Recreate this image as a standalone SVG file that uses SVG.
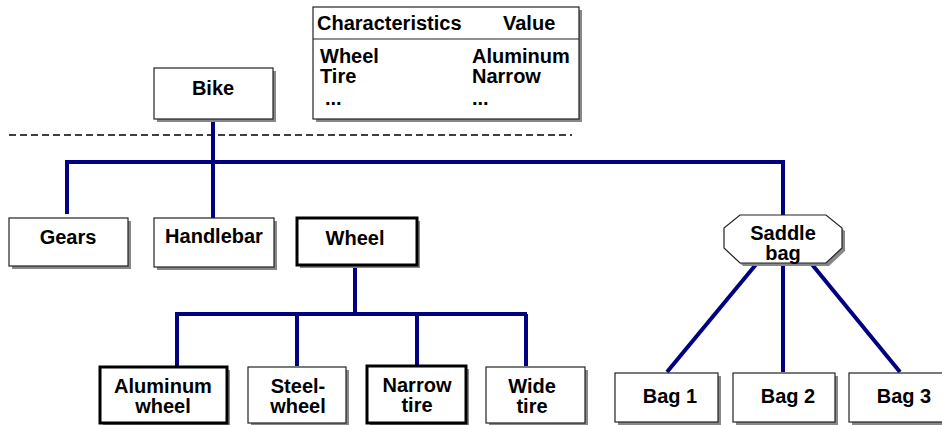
<svg xmlns="http://www.w3.org/2000/svg" width="942" height="425" viewBox="0 0 942 425">
<style>
.box{fill:#fff;stroke:#222;stroke-width:1.2}
.thick{fill:#fff;stroke:#000;stroke-width:3}
.sh{fill:#888}
.t{font-family:"Liberation Sans",Arial,sans-serif;font-weight:bold;font-size:20px;fill:#000}
.c{text-anchor:middle}
.ln{fill:none;stroke:#000080;stroke-width:4}
</style>
<rect width="942" height="425" fill="#fff"/>
<line x1="9" y1="135" x2="572" y2="135" stroke="#000" stroke-width="1.5" stroke-dasharray="7,4"/>
<g id="connectors">
<path class="ln" d="M213 119 V218"/>
<path class="ln" d="M67 214 V162 H783 V215"/>
<path class="ln" d="M355 266 V314"/>
<path class="ln" d="M177 366 V314 H527"/>
<path class="ln" d="M297 314 V366"/>
<path class="ln" d="M417 314 V366"/>
<path class="ln" d="M526 314 V366"/>
<path class="ln" d="M758 262 L667 372"/>
<path class="ln" d="M783 262 V372"/>
<path class="ln" d="M810 262 L900 372"/>
</g>
<g id="table">
<rect class="sh" x="316" y="10" width="266" height="112"/>
<rect class="box" x="313" y="7" width="266" height="112"/>
<line x1="313" y1="39" x2="579" y2="39" stroke="#222" stroke-width="1.2"/>
<text class="t" x="317" y="30">Characteristics</text>
<text class="t" x="503" y="30">Value</text>
<text class="t" x="320" y="63">Wheel</text>
<text class="t" x="472" y="63">Aluminum</text>
<text class="t" x="320" y="83">Tire</text>
<text class="t" x="472" y="83">Narrow</text>
<text class="t" x="325" y="105">...</text>
<text class="t" x="472" y="105">...</text>
</g>
<g id="bike">
<rect class="sh" x="157" y="71" width="119" height="51"/>
<rect class="box" x="154" y="68" width="119" height="51"/>
<text class="t c" x="213" y="95">Bike</text>
</g>
<g id="gears">
<rect class="sh" x="12" y="221" width="119" height="48"/>
<rect class="box" x="9" y="218" width="119" height="48"/>
<text class="t c" x="68" y="244">Gears</text>
</g>
<g id="handlebar">
<rect class="sh" x="157" y="221" width="120" height="49"/>
<rect class="box" x="154" y="218" width="120" height="49"/>
<text class="t c" x="214" y="243">Handlebar</text>
</g>
<g id="wheel">
<rect class="sh" x="300" y="221" width="120" height="47"/>
<rect class="thick" x="297" y="218" width="120" height="47"/>
<text class="t c" x="355" y="245">Wheel</text>
</g>
<g id="saddlebag">
<polygon class="sh" points="743,218 829,218 845,231 845,251 829,266 743,266 727,251 727,231"/>
<polygon class="box" points="740,215 826,215 842,228 842,248 826,263 740,263 724,248 724,228"/>
<text class="t c" x="783" y="240">Saddle</text>
<text class="t c" x="783" y="260">bag</text>
</g>
<g id="aluminum">
<rect class="sh" x="103" y="370" width="127" height="56"/>
<rect class="thick" x="100" y="367" width="127" height="56"/>
<text class="t c" x="163" y="393">Aluminum</text>
<text class="t c" x="163" y="413">wheel</text>
</g>
<g id="steel">
<rect class="sh" x="251" y="370" width="98" height="56"/>
<rect class="box" x="248" y="367" width="98" height="56"/>
<text class="t c" x="298" y="393">Steel-</text>
<text class="t c" x="298" y="413">wheel</text>
</g>
<g id="narrow">
<rect class="sh" x="370" y="369" width="99" height="57"/>
<rect class="thick" x="367" y="366" width="99" height="57"/>
<text class="t c" x="417" y="392">Narrow</text>
<text class="t c" x="417" y="412">tire</text>
</g>
<g id="wide">
<rect class="sh" x="489" y="370" width="99" height="56"/>
<rect class="box" x="486" y="367" width="99" height="56"/>
<text class="t c" x="532" y="393">Wide</text>
<text class="t c" x="532" y="413">tire</text>
</g>
<g id="bag1">
<rect class="sh" x="618" y="376" width="103" height="49"/>
<rect class="box" x="615" y="373" width="103" height="49"/>
<text class="t c" x="670" y="403">Bag 1</text>
</g>
<g id="bag2">
<rect class="sh" x="736" y="376" width="102" height="49"/>
<rect class="box" x="733" y="373" width="102" height="49"/>
<text class="t c" x="788" y="403">Bag 2</text>
</g>
<g id="bag3">
<rect class="sh" x="852" y="376" width="103" height="49"/>
<rect class="box" x="849" y="373" width="103" height="49"/>
<text class="t c" x="904" y="403">Bag 3</text>
</g>
</svg>
